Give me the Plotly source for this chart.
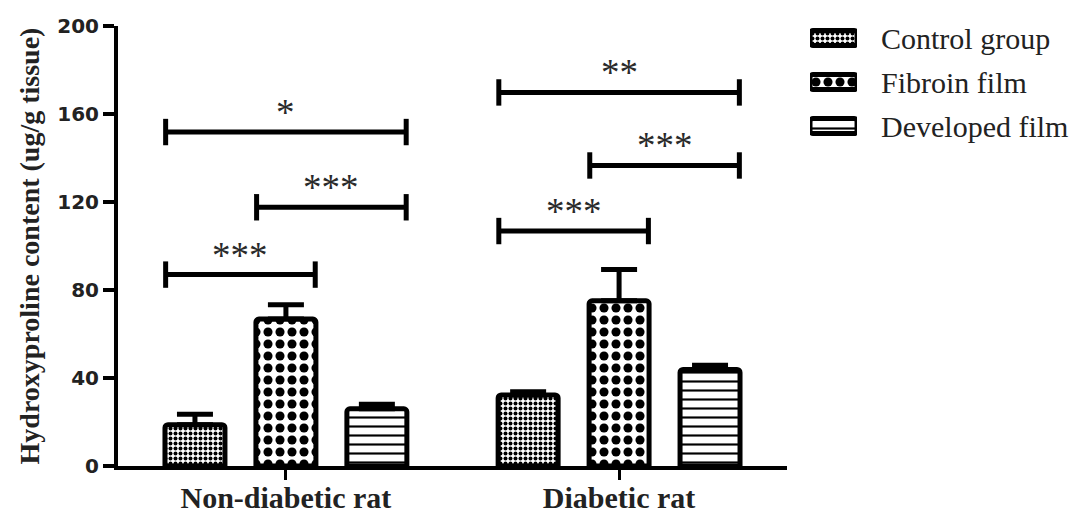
import plotly.graph_objects as go

# ---- data ----
categories = ["Non-diabetic rat", "Diabetic rat"]
series_names = ["Control group", "Fibroin film", "Developed film"]
means = {
    "Control group": [18.8, 32.3],
    "Fibroin film": [66.8, 75.1],
    "Developed film": [26.0, 43.9],
}
errors = {
    "Control group": [4.7, 1.4],
    "Fibroin film": [6.5, 14.2],
    "Developed film": [2.1, 1.9],
}
# significance comparisons: (group index, series a, series b, y level, label)
sig_group = [0, 0, 0, 1, 1, 1]
sig_a = [0, 1, 0, 0, 1, 0]
sig_b = [2, 2, 1, 2, 2, 1]
sig_y = [151.8, 117.6, 87.0, 169.8, 136.6, 106.8]
sig_label = ["*", "***", "***", "**", "***", "***"]
y_ticks = [0, 40, 80, 120, 160, 200]

# ---- styles ----
offset = 0.273
bar_w = 0.18
patterns = [
    dict(shape=".", size=5, solidity=0.5, fgcolor="black", bgcolor="white", fgopacity=1),
    dict(shape=".", size=12, solidity=0.45, fgcolor="black", bgcolor="white", fgopacity=1),
    dict(shape="-", size=9, solidity=0.24, fgcolor="black", bgcolor="white", fgopacity=1),
]

fig = go.Figure()
for k, name in enumerate(series_names):
    xs = [g + (k - 1) * offset for g in range(len(categories))]
    fig.add_trace(go.Bar(
        x=xs, y=means[name], width=bar_w, name=name, showlegend=False,
        marker=dict(color="white", line=dict(color="black", width=5), pattern=patterns[k]),
        error_y=dict(type="data", array=errors[name], arrayminus=[0] * len(categories),
                     symmetric=False, color="black", thickness=5, width=18),
    ))

half = 0.088
cap = 6
for g, a, b, yv, lab in zip(sig_group, sig_a, sig_b, sig_y, sig_label):
    x1 = g + (a - 1) * offset - half
    x2 = g + (b - 1) * offset + half
    fig.add_trace(go.Scatter(
        x=[x1, x1, None, x1, x2, None, x2, x2],
        y=[yv - cap, yv + cap, None, yv, yv, None, yv - cap, yv + cap],
        mode="lines", line=dict(color="black", width=5), showlegend=False, hoverinfo="skip",
    ))
    fig.add_annotation(x=(x1 + x2) / 2, y=yv, text=lab, showarrow=False, yanchor="bottom",
                       yshift=-3, font=dict(family="Liberation Serif", size=37, color="#2a2a2a"))

# ---- legend (swatches drawn as patterned bars on a hidden axis pair) ----
for k, name in enumerate(series_names):
    fig.add_trace(go.Bar(
        x=[1], y=[k], base=[0], orientation="h", width=0.34, xaxis="x2", yaxis="y2",
        showlegend=False, hoverinfo="skip", cliponaxis=False,
        marker=dict(color="white", line=dict(color="black", width=5), pattern=patterns[k]),
    ))
    fig.add_annotation(x=1, y=k, xref="x2", yref="y2", text=name, showarrow=False,
                       xanchor="left", xshift=22,
                       font=dict(family="Liberation Serif", size=30, color="#222"))

# page body has an 8px margin, so the figure is 1082x510 and offset accordingly
fig.update_layout(
    width=1082, height=510,
    margin=dict(l=110, r=2, t=2, b=52, autoexpand=False),
    plot_bgcolor="white", paper_bgcolor="white",
    barmode="overlay",
    barcornerradius=3,
    showlegend=False,
    xaxis=dict(domain=[0, 0.68969], range=[-0.504, 1.504], automargin=False,
               tickvals=list(range(len(categories))), ticktext=categories,
               showline=True, linecolor="black", linewidth=4, ticks="outside", ticklen=10,
               tickwidth=3, tickcolor="black", showgrid=False, zeroline=False,
               ticklabelstandoff=-8,
               tickfont=dict(family="Liberation Serif", size=30, color="#222", weight="bold")),
    yaxis=dict(domain=[0, 0.96491], range=[0, 200], tickvals=y_ticks, showline=True,
               automargin=False, linecolor="black", linewidth=4,
               ticks="outside", ticklen=11, tickwidth=4, tickcolor="black", showgrid=False,
               zeroline=False,
               tickfont=dict(family="DejaVu Sans", size=20, color="#222", weight="bold"),
               title=dict(text="Hydroxyproline content (ug/g tissue)", standoff=10,
                          font=dict(family="Liberation Serif", size=28, color="#222", weight="bold"))),
    xaxis2=dict(domain=[0.7134, 0.7619], range=[0, 1], visible=False, fixedrange=True,
                automargin=False),
    yaxis2=dict(domain=[0.69737, 0.98684], range=[2.5, -0.5], visible=False, fixedrange=True,
                automargin=False),
)
fig.update_layout(xaxis2_anchor="y2", yaxis2_anchor="x2")

fig.write_html("out.html")
